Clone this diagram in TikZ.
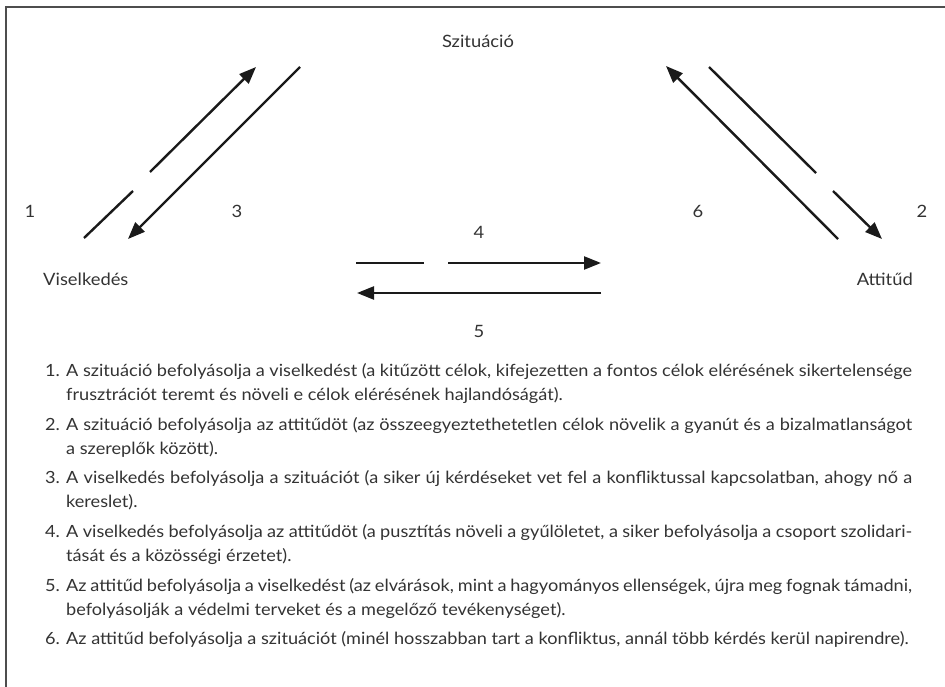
\documentclass[tikz,border=0pt]{standalone}
\usepackage{fontspec}
\setmainfont[FakeStretch=1.08]{Lato}
\usetikzlibrary{arrows.meta}
\definecolor{ink}{HTML}{333333}
\definecolor{framegray}{HTML}{4D4D4D}
\definecolor{arrowink}{HTML}{1A1A1A}
% a justified line spread over the full text width, and a closing line
\newcommand\fullline[1]{\hbox to 846pt{#1}}
\newcommand\lastline[1]{\hbox{#1}}
\begin{document}
\begin{tikzpicture}[x=1pt,y=-1pt,
  txt/.style={font=\fontsize{17}{24}\selectfont, text=ink, inner sep=0pt, anchor=base},
  listfont/.style={font=\fontsize{16.8}{24}\selectfont, text=ink, inner sep=0pt},
  num/.style={listfont, anchor=base west},
  itemtext/.style={listfont, anchor=base west},
  seg/.style={draw=arrowink, line width=2.4pt},
  arr/.style={seg, -{Triangle[length=17pt,width=13pt]}}]
\useasboundingbox (0,0) rectangle (945,687);
% open frame: left and top rules
\draw[framegray, line width=1.3pt] (6,687) -- (6,7) -- (945,7);

% the three vertices of the triangle
\node[txt] (sit) at (478,48) {Szituáció};
\node[txt, anchor=base west] (vis) at (43,285) {Viselkedés};
\node[txt, anchor=base east] (att) at (913,285) {Attitűd};

% arrow labels
\node[txt] (l1) at (30,218) {1};
\node[txt] (l3) at (237,218) {3};
\node[txt] (l6) at (698,218) {6};
\node[txt] (l2) at (922,218) {2};
\node[txt] (l4) at (479,238) {4};
\node[txt] (l5) at (479,337) {5};

% arrow end points
\coordinate (a1s) at (84,238);  \coordinate (a1m) at (133,191);
\coordinate (a1n) at (150,172); \coordinate (a1e) at (256,67);
\coordinate (a3s) at (300,67);  \coordinate (a3e) at (128,239);
\coordinate (a6s) at (838,239); \coordinate (a6e) at (666,66);
\coordinate (a2s) at (709,67);  \coordinate (a2m) at (816,173);
\coordinate (a2n) at (833,191); \coordinate (a2e) at (882,239);
\coordinate (a4s) at (356,263); \coordinate (a4m) at (424,263);
\coordinate (a4n) at (448,263); \coordinate (a4e) at (601,263);
\coordinate (a5s) at (601,293); \coordinate (a5e) at (357,293);

% 1: situation -> behaviour (broken line)
\draw[seg] (a1s) -- (a1m);
\draw[arr] (a1n) -- (a1e);
% 3: behaviour -> situation
\draw[arr] (a3s) -- (a3e);
% 6: attitude -> situation
\draw[arr] (a6s) -- (a6e);
% 2: situation -> attitude (broken line)
\draw[seg] (a2s) -- (a2m);
\draw[arr] (a2n) -- (a2e);
% 4: behaviour -> attitude (broken line)
\draw[seg] (a4s) -- (a4m);
\draw[arr] (a4n) -- (a4e);
% 5: attitude -> behaviour
\draw[arr] (a5s) -- (a5e);

% numbered explanations
\node[num] (n1) at (45,376) {1.};
\node[itemtext] (t1) at (66,376) {\vtop{%
  \fullline{A szituáció befolyásolja a viselkedést (a kitűzött célok, kifejezetten a fontos célok elérésének sikertelensége}
  \lastline{frusztrációt teremt és növeli e célok elérésének hajlandóságát).}}};
\node[num] (n2) at (45,430) {2.};
\node[itemtext] (t2) at (66,430) {\vtop{%
  \fullline{A szituáció befolyásolja az attitűdöt (az összeegyeztethetetlen célok növelik a gyanút és a bizalmatlanságot}
  \lastline{a szereplők között).}}};
\node[num] (n3) at (45,483) {3.};
\node[itemtext] (t3) at (66,483) {\vtop{%
  \fullline{A viselkedés befolyásolja a szituációt (a siker új kérdéseket vet fel a konfliktussal kapcsolatban, ahogy nő a}
  \lastline{kereslet).}}};
\node[num] (n4) at (45,537) {4.};
\node[itemtext] (t4) at (66,537) {\vtop{%
  \fullline{A viselkedés befolyásolja az attitűdöt (a pusztítás növeli a gyűlöletet, a siker befolyásolja a csoport szolidari-}
  \lastline{tását és a közösségi érzetet).}}};
\node[num] (n5) at (45,591) {5.};
\node[itemtext] (t5) at (66,591) {\vtop{%
  \fullline{Az attitűd befolyásolja a viselkedést (az elvárások, mint a hagyományos ellenségek, újra meg fognak támadni,}
  \lastline{befolyásolják a védelmi terveket és a megelőző tevékenységet).}}};
\node[num] (n6) at (45,644) {6.};
\node[itemtext] (t6) at (66,644) {\vtop{%
  \lastline{Az attitűd befolyásolja a szituációt (minél hosszabban tart a konfliktus, annál több kérdés kerül napirendre).}}};
\end{tikzpicture}
\end{document}
